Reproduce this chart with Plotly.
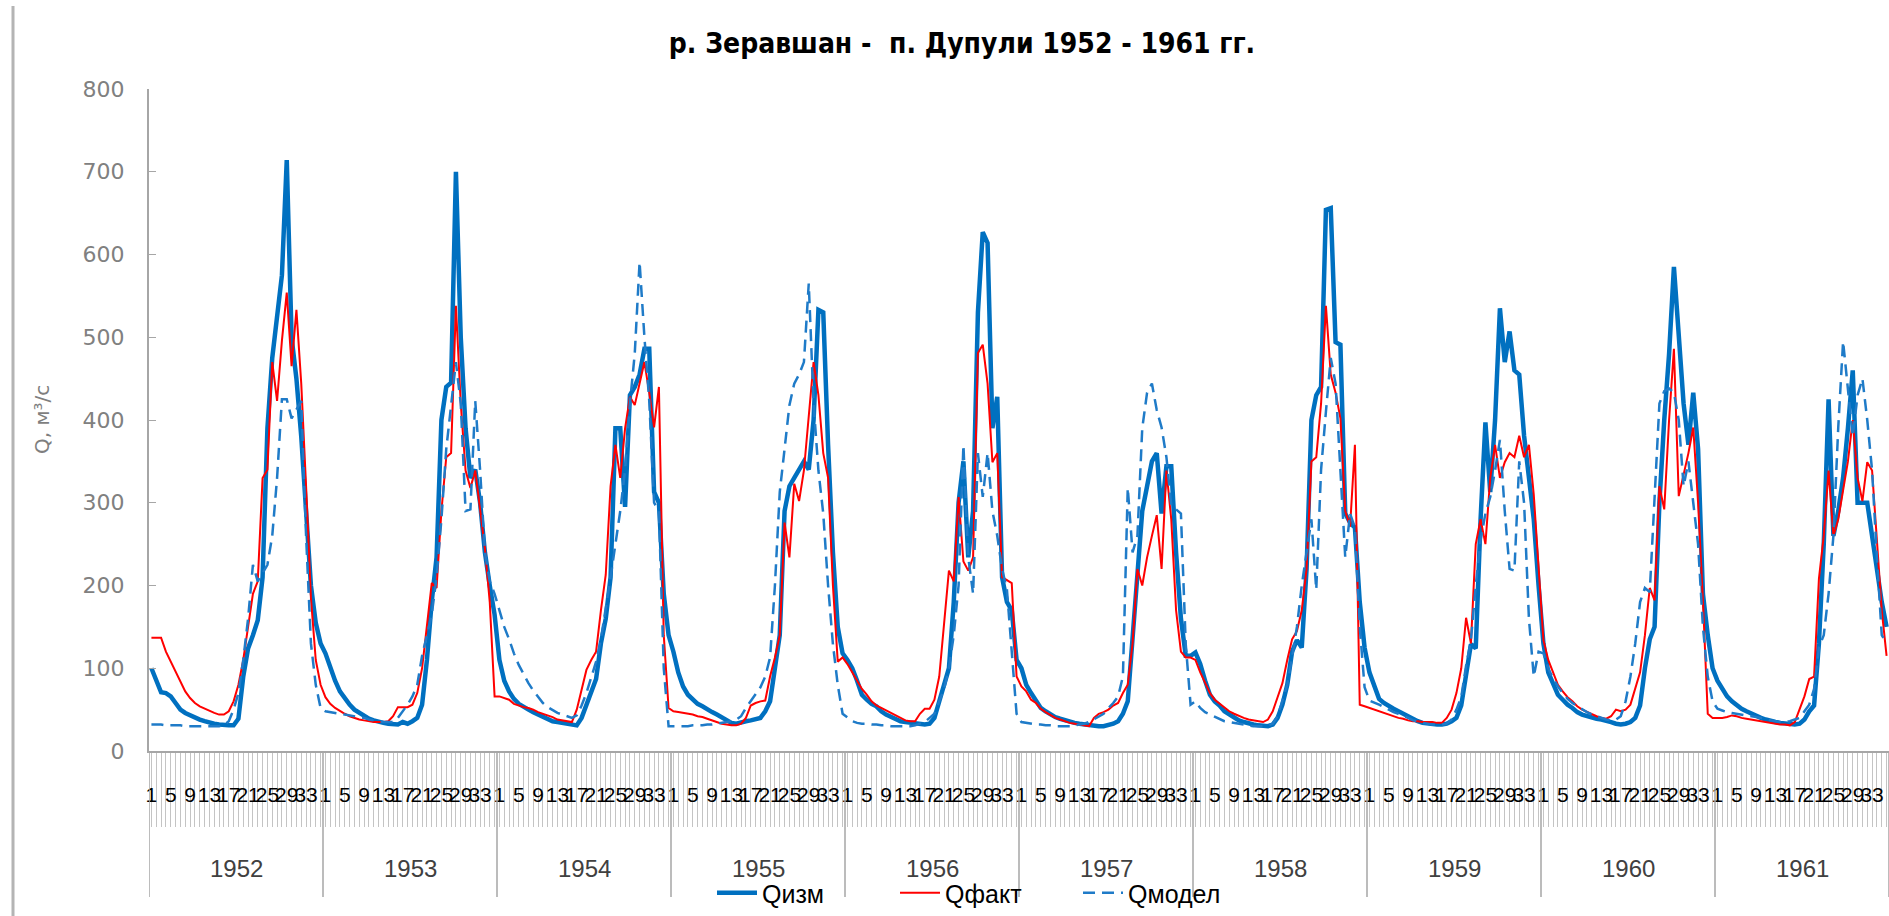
import plotly.graph_objects as go

# ---------------- data ----------------
YEARS = [1952, 1953, 1954, 1955, 1956, 1957, 1958, 1959, 1960, 1961]
DEKADS_PER_YEAR = 36
SERIES_NAMES = ["Qизм", "Qфакт", "Qмодел"]
TITLE = "р. Зеравшан -  п. Дупули 1952 - 1961 гг."
Y_TITLE = "Q, м³/с"

Q_IZM = [
    100, 85, 71, 70, 66, 58, 50, 46, 43, 41, 38, 36, 34, 33, 32, 31, 31, 31, 39, 90, 124, 140, 158, 210, 390, 475, 530, 575, 714, 500, 450, 380, 290, 200, 155, 130,
    118, 100, 85, 72, 63, 56, 50, 46, 42, 39, 37, 35, 34, 33, 32, 32, 35, 33, 36, 40, 56, 110, 181, 234, 400, 440, 445, 700, 500, 390, 330, 340, 300, 240, 200, 165,
    110, 85, 72, 63, 57, 53, 50, 47, 44, 41, 38, 36, 35, 34, 33, 32, 31, 40, 56, 70, 87, 130, 160, 210, 390, 390, 295, 430, 440, 455, 486, 486, 313, 300, 190, 140,
    120, 95, 78, 68, 62, 57, 54, 50, 47, 44, 41, 37, 34, 33, 35, 36, 37, 38, 40, 48, 60, 100, 140, 290, 320, 330, 340, 350, 340, 400, 533, 530, 370, 240, 150, 118,
    110, 100, 85, 68, 62, 57, 54, 48, 44, 41, 38, 36, 35, 34, 33, 32, 32, 33, 40, 60, 80, 100, 180, 300, 350, 234, 290, 530, 627, 614, 390, 428, 210, 180, 170, 110,
    100, 80, 70, 60, 52, 48, 44, 41, 39, 37, 35, 34, 33, 32, 31, 30, 30, 30, 31, 33, 36, 45, 60, 140, 220, 290, 320, 350, 360, 287, 344, 344, 240, 160, 115, 115,
    119, 105, 85, 68, 60, 55, 48, 44, 40, 37, 35, 33, 32, 31, 30, 30, 32, 40, 56, 80, 120, 134, 125, 220, 400, 430, 440, 654, 656, 494, 491, 287, 276, 270, 180, 125,
    95, 78, 63, 58, 54, 51, 48, 45, 42, 38, 36, 34, 33, 32, 32, 32, 33, 36, 40, 55, 90, 129, 124, 280, 397, 313, 400, 535, 470, 507, 460, 455, 381, 330, 280, 200,
    130, 95, 80, 68, 62, 56, 52, 47, 44, 42, 40, 39, 38, 37, 35, 33, 32, 33, 35, 40, 55, 100, 135, 150, 300, 400, 480, 585, 500, 420, 370, 433, 365, 190, 140, 100,
    85, 75, 66, 60, 55, 51, 48, 45, 42, 40, 38, 36, 35, 34, 33, 32, 32, 33, 38, 48, 55, 130, 250, 425, 260, 290, 330, 390, 460, 300, 300, 300, 260, 220, 180, 150,
]

Q_FAKT = [
    137, 137, 137, 120, 108, 96, 84, 72, 64, 58, 54, 51, 48, 46, 44, 44, 48, 60, 80, 110, 150, 190, 205, 330, 340, 470, 423, 496, 554, 465, 533, 444, 320, 185, 110, 80,
    65, 57, 52, 48, 45, 42, 40, 38, 37, 36, 35, 35, 35, 36, 42, 53, 53, 53, 56, 70, 100, 150, 203, 197, 290, 355, 360, 538, 420, 339, 318, 339, 290, 245, 180, 66,
    66, 64, 62, 57, 55, 53, 52, 50, 47, 45, 43, 41, 38, 37, 36, 35, 50, 75, 98, 110, 120, 170, 213, 320, 370, 330, 390, 428, 418, 444, 470, 433, 391, 440, 140, 52,
    48, 47, 46, 45, 44, 42, 41, 39, 37, 35, 33, 32, 31, 31, 33, 40, 55, 58, 60, 61, 90, 113, 140, 276, 234, 323, 302, 339, 400, 470, 430, 360, 330, 200, 108, 113,
    105, 95, 85, 75, 68, 60, 55, 52, 48, 45, 42, 39, 37, 36, 36, 45, 51, 51, 62, 90, 150, 218, 205, 307, 229, 218, 234, 481, 491, 444, 349, 360, 210, 206, 203, 90,
    78, 72, 62, 58, 51, 47, 43, 40, 38, 36, 34, 33, 32, 31, 30, 40, 45, 47, 50, 55, 58, 70, 80, 130, 220, 200, 234, 260, 285, 220, 339, 280, 170, 120, 113, 113,
    110, 95, 82, 70, 62, 57, 53, 48, 45, 42, 40, 38, 37, 36, 35, 38, 48, 65, 82, 110, 135, 145, 170, 220, 350, 355, 420, 538, 455, 433, 402, 290, 271, 370, 56, 54,
    52, 50, 48, 46, 44, 42, 40, 39, 37, 36, 36, 35, 35, 35, 34, 34, 40, 50, 70, 100, 161, 130, 250, 280, 250, 330, 370, 330, 349, 360, 355, 381, 355, 370, 310, 220,
    134, 110, 95, 80, 72, 65, 60, 54, 50, 47, 44, 42, 40, 39, 42, 50, 48, 50, 56, 75, 95, 140, 197, 182, 320, 292, 400, 486, 308, 334, 360, 391, 300, 182, 45, 40,
    40, 40, 41, 43, 42, 40, 39, 38, 37, 36, 35, 34, 33, 32, 32, 31, 35, 50, 66, 87, 90, 208, 260, 339, 260, 280, 313, 350, 400, 330, 302, 349, 339, 250, 170, 115,
]

Q_MODEL = [
    32, 32, 32, 31, 31, 31, 31, 30, 30, 30, 30, 30, 30, 30, 30, 31, 36, 50, 70, 110, 160, 225, 205, 215, 225, 260, 330, 425, 425, 402, 412, 423, 260, 130, 80, 52,
    48, 47, 46, 45, 44, 43, 42, 41, 40, 38, 37, 36, 35, 35, 35, 40, 48, 56, 66, 80, 115, 140, 165, 210, 280, 365, 420, 470, 420, 290, 292, 423, 340, 240, 205, 190,
    170, 150, 135, 118, 104, 92, 82, 73, 65, 58, 53, 49, 46, 44, 42, 40, 43, 55, 70, 90, 108, 135, 170, 210, 250, 290, 340, 420, 480, 591, 500, 423, 300, 290, 100, 30,
    30, 30, 30, 30, 31, 31, 31, 32, 32, 33, 34, 35, 36, 38, 42, 52, 60, 68, 77, 90, 113, 200, 313, 365, 418, 444, 455, 470, 565, 420, 339, 287, 200, 129, 80, 45,
    40, 36, 34, 33, 33, 32, 32, 31, 31, 30, 30, 30, 30, 30, 31, 33, 35, 40, 45, 60, 75, 100, 140, 200, 370, 234, 190, 360, 307, 360, 290, 260, 220, 195, 120, 45,
    35, 34, 33, 32, 32, 31, 31, 30, 30, 30, 30, 31, 32, 33, 35, 38, 42, 45, 52, 58, 66, 90, 318, 240, 260, 390, 433, 444, 412, 391, 355, 297, 292, 287, 129, 56,
    60, 52, 47, 44, 42, 39, 36, 35, 34, 33, 32, 31, 30, 30, 30, 31, 33, 42, 60, 80, 113, 150, 200, 240, 280, 195, 340, 410, 475, 444, 340, 234, 287, 270, 150, 77,
    61, 58, 56, 53, 50, 47, 45, 42, 40, 37, 36, 34, 33, 32, 32, 32, 33, 38, 50, 65, 103, 134, 200, 255, 287, 307, 339, 376, 290, 220, 218, 350, 300, 160, 90, 120,
    118, 100, 88, 78, 70, 63, 58, 54, 50, 47, 44, 42, 40, 38, 37, 38, 42, 60, 90, 130, 180, 197, 192, 300, 420, 435, 438, 433, 400, 320, 350, 300, 250, 150, 90, 60,
    51, 49, 47, 46, 45, 44, 43, 42, 41, 40, 39, 37, 36, 35, 35, 36, 38, 40, 48, 56, 75, 125, 140, 190, 260, 391, 495, 433, 380, 430, 450, 400, 339, 234, 140, 130,
]

# ---------------- figure ----------------
n = len(Q_IZM)
x = list(range(n))
ticktext = [str(i % DEKADS_PER_YEAR + 1) if (i % DEKADS_PER_YEAR) % 4 == 0 else "" for i in x]

W, H = 1889, 916
ML, MR, MT, MB = 149, 0, 89, 165
plot_w = W - ML - MR
plot_h = H - MT - MB


def px_to_paper_x(px):
    return (px - ML) / plot_w


def px_to_paper_y(py):
    return (H - MB - py) / plot_h


fig = go.Figure()
fig.add_trace(go.Scatter(x=x, y=Q_IZM, mode="lines", name=SERIES_NAMES[0],
                         line=dict(color="#0070C0", width=4.5)))
fig.add_trace(go.Scatter(x=x, y=Q_FAKT, mode="lines", name=SERIES_NAMES[1],
                         line=dict(color="#FF0000", width=2)))
fig.add_trace(go.Scatter(x=x, y=Q_MODEL, mode="lines", name=SERIES_NAMES[2],
                         line=dict(color="#1F7BC8", width=2.5, dash="12px,7px")))

shapes = []
for k in range(len(YEARS) + 1):
    shapes.append(dict(type="line", xref="x", yref="paper",
                       x0=k * DEKADS_PER_YEAR - 0.5, x1=k * DEKADS_PER_YEAR - 0.5,
                       y0=0, y1=px_to_paper_y(897),
                       line=dict(color="#a6a6a6", width=1.5)))
# outer chart border (left edge)
shapes.append(dict(type="line", xref="paper", yref="paper",
                   x0=px_to_paper_x(13), x1=px_to_paper_x(13),
                   y0=px_to_paper_y(916), y1=px_to_paper_y(6),
                   line=dict(color="#b4b4b4", width=3)))

annotations = []
for k, yr in enumerate(YEARS):
    annotations.append(dict(x=k * DEKADS_PER_YEAR + (DEKADS_PER_YEAR - 1) / 2, xref="x",
                            y=px_to_paper_y(868), yref="paper",
                            text=str(yr), showarrow=False,
                            xanchor="center", yanchor="middle",
                            font=dict(family="Liberation Sans, Arial", size=24, color="#404040")))
annotations.append(dict(x=px_to_paper_x(42), xref="paper", y=0.5, yref="paper",
                        text=Y_TITLE, textangle=-90, showarrow=False,
                        xanchor="center", yanchor="middle",
                        font=dict(family="DejaVu Sans", size=20, color="#7f7f7f")))

fig.update_layout(
    width=W, height=H,
    margin=dict(l=ML, r=MR, t=MT, b=MB, pad=0),
    paper_bgcolor="white", plot_bgcolor="white",
    title=dict(text=TITLE, x=962 / W, xref="container", xanchor="center",
               y=1 - 43 / H, yref="container", yanchor="middle",
               font=dict(family="Liberation Sans Narrow, DejaVu Sans Condensed, Liberation Sans",
                         size=28, color="black", weight="bold")),
    xaxis=dict(range=[-0.5, n - 0.5], showgrid=False, zeroline=False,
               showline=True, linecolor="#a6a6a6", linewidth=2,
               tickmode="array", tickvals=x, ticktext=ticktext, tickangle=0,
               ticks="outside", ticklen=74, tickwidth=1, tickcolor="#c4c4c4",
               ticklabelstandoff=-50,
               tickfont=dict(family="Liberation Sans, Arial", size=21, color="black")),
    yaxis=dict(range=[0, 800], tick0=0, dtick=100, showgrid=False, zeroline=False,
               showline=True, linecolor="#a6a6a6", linewidth=2,
               ticks="inside", ticklen=7, tickcolor="#a6a6a6",
               ticklabelstandoff=18,
               tickfont=dict(family="DejaVu Sans", size=22, color="#808080")),
    legend=dict(orientation="h", x=px_to_paper_x(712), xanchor="left",
                y=px_to_paper_y(893), yanchor="middle",
                font=dict(family="Liberation Sans, Arial", size=25, color="black"),
                bgcolor="rgba(0,0,0,0)", entrywidth=128, itemwidth=40),
    shapes=shapes,
    annotations=annotations,
    showlegend=True,
)

fig.write_html("out.html")
